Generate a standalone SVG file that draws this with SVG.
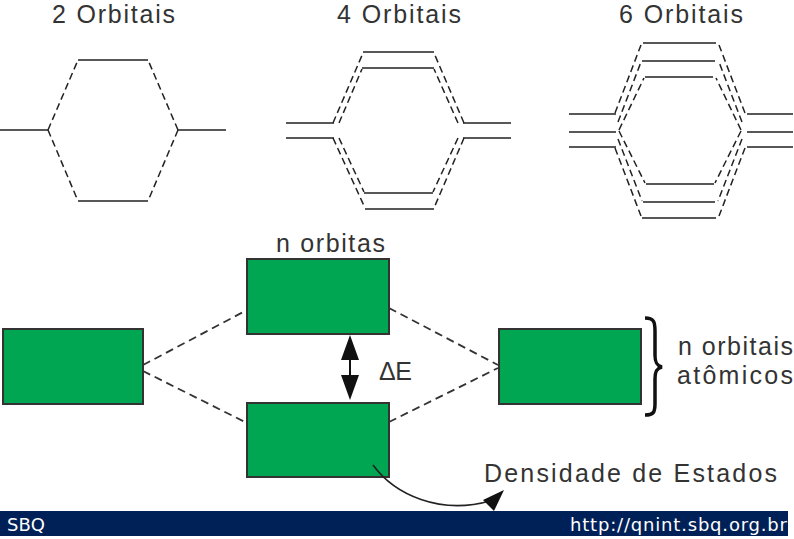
<svg xmlns="http://www.w3.org/2000/svg" width="794" height="539" viewBox="0 0 794 539">
<defs>
<style>
.t{font-family:"Liberation Sans",Arial,sans-serif;fill:#333;font-size:25px}
.lv{stroke:#222;stroke-width:1.6;fill:none}
.ds{stroke:#222;stroke-width:1.5;fill:none;stroke-dasharray:7,4}
.box{fill:#00a651;stroke:#333;stroke-width:2}
.dc{stroke:#333;stroke-width:1.8;fill:none;stroke-dasharray:8,5}
.ft{font-family:"DejaVu Sans",Verdana,sans-serif;fill:#fff;font-size:18px}
</style>
</defs>
<rect width="794" height="539" fill="#fff"/>

<g id="orb2">
<text class="t" x="52" y="23" textLength="123" lengthAdjust="spacing">2 Orbitais</text>
<path class="lv" d="M0,130 H48 M178,130 H226 M78,60 H148 M78,201 H148"/>
<path class="ds" d="M48,130 L78,60 M48,130 L78,201 M178,130 L148,60 M178,130 L148,201"/>
</g>

<g id="orb4">
<text class="t" x="337" y="23" textLength="124" lengthAdjust="spacing">4 Orbitais</text>
<path class="lv" d="M286,123 H334 M286,138 H334 M463,123 H511 M463,138 H511 M363,52 H434 M362,68 H434 M364,193 H433 M365,209 H434"/>
<path class="ds" d="M333,123 L363,53 M339,123 L362,69 M333,138 L365,208 M339,138 L364,192 M464,123 L434,53 M458,123 L434,69 M464,138 L434,208 M458,138 L433,192"/>
</g>

<g id="orb6">
<text class="t" x="619" y="23" textLength="124" lengthAdjust="spacing">6 Orbitais</text>
<path class="lv" d="M569,114 H616 M569,132 H616 M569,147 H616 M747,114 H793 M747,132 H793 M747,147 H793 M643,43 H716 M642,61 H715 M645,77 H713 M646,184 H714 M643,202 H715 M642,218 H716"/>
<path class="ds" d="M615,113 L641,45 M618,122 L641,62 M619,130 L644,78 M615,148 L641,216 M618,139 L642,201 M619,131 L645,183 M745,113 L719,45 M742,122 L719,62 M741,130 L716,78 M745,148 L719,216 M742,139 L718,201 M741,131 L715,183"/>
</g>

<g id="mo-top">
<text class="t" x="276" y="252" textLength="109" lengthAdjust="spacing">n orbitas</text>
<rect class="box" x="247" y="259" width="142" height="75"/>
</g>
<g id="ao-left">
<rect class="box" x="3" y="329" width="140" height="75"/>
</g>
<g id="mo-bottom">
<rect class="box" x="247" y="403" width="142" height="74"/>
</g>
<g id="ao-right">
<rect class="box" x="499" y="329" width="142" height="75"/>
<path d="M645,318 C654,318 655,322 655,331 L655,355 C655,363 657,366 662,367 C657,368 655,371 655,379 L655,403 C655,412 654,415 645,415" stroke="#111" stroke-width="3.5" fill="none"/>
<text class="t" x="678" y="355" textLength="115" lengthAdjust="spacing">n orbitais</text>
<text class="t" x="677" y="384" textLength="116" lengthAdjust="spacing">atômicos</text>
</g>
<g id="deltaE">
<text class="t" x="379" y="380" textLength="33" lengthAdjust="spacing">ΔE</text>
</g>
<g id="dos">
<text class="t" x="484" y="482" textLength="293" lengthAdjust="spacing">Densidade de Estados</text>
</g>

<g id="connectors">
<path class="dc" d="M143,365 L247,310 M143,371 L247,423 M389,308 L498,365 M389,422 L498,368"/>
<line x1="350" y1="352" x2="350" y2="382" stroke="#111" stroke-width="2"/>
<path d="M350,335 L341,360 L359,360 z M350,400 L341,375 L359,375 z" fill="#111"/>
<path d="M373,465 C395,495 440,515 490,501" stroke="#222" stroke-width="1.6" fill="none"/>
<path d="M504,490 L483,500 L494,511 z" fill="#111"/>
</g>

<g id="footer">
<rect x="0" y="511" width="788" height="25" fill="#002157"/>
<text class="ft" x="7" y="531">SBQ</text>
<text class="ft" x="787" y="531" text-anchor="end" textLength="217" lengthAdjust="spacing">http://qnint.sbq.org.br</text>
</g>
</svg>
